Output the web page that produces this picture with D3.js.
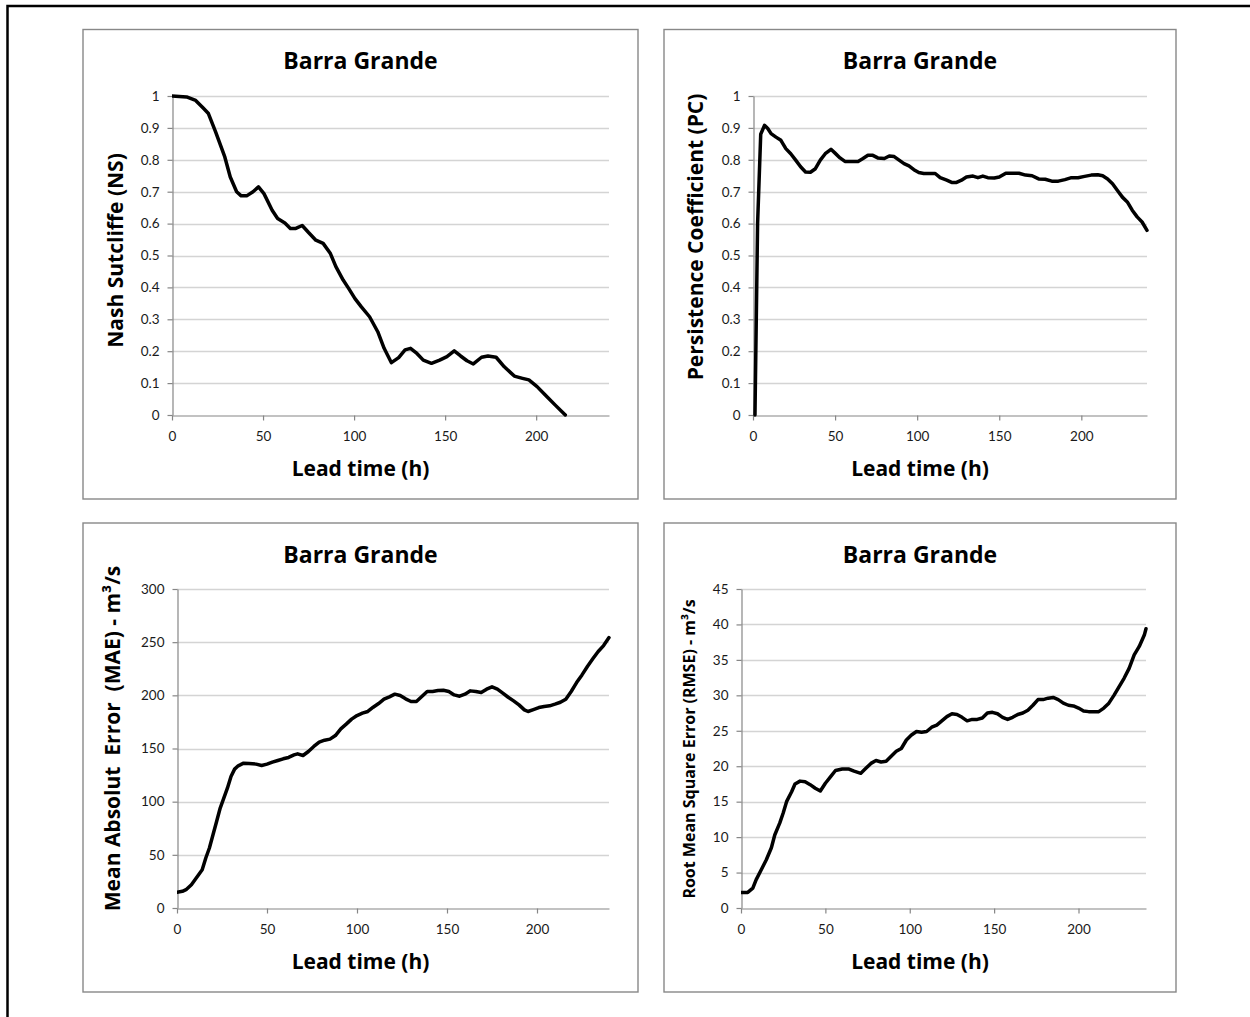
<!DOCTYPE html>
<html>
<head>
<meta charset="utf-8">
<script src="https://cdn.jsdelivr.net/npm/d3@7"></script>
<style>
  body { margin: 0; background: #fff; }
  svg { display: block; font-family: "Open Sans", Lato, sans-serif; }
</style>
</head>
<body>
<div id="chart"></div>
<script>
// lead time (h) and values
var nsHours  = [0, 8, 13, 17, 20, 24, 29, 32, 35.5, 38, 41, 44.5, 47.5, 50.5, 55, 58, 62, 65, 68, 71.5, 75, 79, 83, 87, 90, 94, 97, 100.5, 104, 108.5, 113, 116.5, 120.5, 124.5, 128, 131, 134.5, 138, 142.5, 147, 151, 155, 158.5, 162, 165.5, 170, 173.5, 178, 182.5, 188, 192.5, 196, 200.5, 205, 210.5, 216];
var nsValues = [1, 0.997, 0.986, 0.963, 0.945, 0.887, 0.809, 0.746, 0.70, 0.687, 0.687, 0.70, 0.715, 0.694, 0.642, 0.616, 0.602, 0.585, 0.585, 0.594, 0.572, 0.548, 0.538, 0.506, 0.465, 0.423, 0.397, 0.365, 0.339, 0.308, 0.261, 0.209, 0.164, 0.18, 0.204, 0.209, 0.193, 0.172, 0.162, 0.172, 0.183, 0.201, 0.185, 0.17, 0.16, 0.181, 0.185, 0.181, 0.151, 0.122, 0.115, 0.11, 0.089, 0.063, 0.031, 0];

var pcHours  = [1.2, 2.8, 4.7, 7, 9, 11, 14, 17, 20, 23, 26, 29, 32, 35, 38, 41, 44, 47.5, 50, 53, 56, 60, 64, 67, 70, 73, 76, 80, 83, 86, 89, 92, 95, 98, 101, 104, 108, 111, 114, 118, 121, 124, 127, 130, 134, 137, 140, 143, 147, 150, 154, 158, 162, 166, 170, 174, 178, 182, 186, 190, 194, 198, 202, 206, 210, 213, 216, 219, 222, 225, 228, 231, 234, 237, 240];
var pcValues = [0, 0.6, 0.88, 0.908, 0.898, 0.882, 0.871, 0.861, 0.835, 0.819, 0.799, 0.778, 0.762, 0.761, 0.772, 0.799, 0.819, 0.833, 0.821, 0.806, 0.795, 0.795, 0.795, 0.804, 0.814, 0.814, 0.806, 0.804, 0.812, 0.81, 0.799, 0.788, 0.781, 0.769, 0.76, 0.757, 0.757, 0.757, 0.744, 0.736, 0.729, 0.729, 0.736, 0.746, 0.749, 0.744, 0.749, 0.744, 0.743, 0.746, 0.758, 0.758, 0.758, 0.752, 0.75, 0.74, 0.739, 0.733, 0.733, 0.738, 0.744, 0.744, 0.748, 0.752, 0.753, 0.75, 0.74, 0.725, 0.704, 0.683, 0.668, 0.642, 0.621, 0.605, 0.579];

var maeHours  = [0, 3, 5, 8, 10, 12, 14, 16, 18, 20, 22, 24, 26, 28, 30, 32, 34, 37, 40, 44, 47, 50, 53, 56, 59, 62, 65, 67, 70, 73, 76, 79, 82, 85, 88, 91, 94, 97, 100, 103, 106, 109, 112, 115, 118, 121, 124, 127, 130, 133, 136, 139, 142, 145, 148, 151, 154, 157, 160, 163, 166, 169, 172, 175, 178, 181, 184, 187, 190, 193, 195, 198, 201, 204, 207, 210, 213, 216, 219, 222, 225, 228, 231, 234, 237, 240];
var maeValues = [14.7, 15.7, 17.2, 21.9, 26.6, 31.3, 36, 47, 56.4, 68.9, 81.4, 94, 103.3, 112.7, 123.7, 130.6, 133.7, 136.2, 135.9, 135.3, 134, 135.3, 137.2, 138.7, 140.3, 141.6, 144, 145, 143.4, 147.2, 151.9, 156, 157.8, 158.8, 162.2, 168.5, 172.9, 177.6, 181, 183.2, 184.8, 188.8, 192.3, 196.4, 198.6, 201.1, 199.8, 196.7, 194.2, 194.2, 198.9, 203.6, 203.6, 204.5, 204.8, 203.6, 200.4, 199.2, 201.1, 204.2, 203.6, 202.6, 205.8, 208, 205.8, 202, 198.2, 194.8, 191, 186.3, 184.8, 186.6, 188.5, 189.5, 190.1, 191.7, 193.5, 196.4, 203.6, 212, 219.2, 227.1, 234.3, 241.2, 246.8, 254.3];

var rmseHours  = [0, 4, 7, 9, 12, 15, 18, 20, 23, 25, 27, 30, 32, 35, 38, 41, 44, 47, 50, 53, 56, 60, 64, 67, 71, 74, 77, 80, 83, 86, 89, 92, 95, 98, 101, 104, 107, 110, 113, 116, 119, 122, 125, 128, 131, 134, 137, 140, 143, 146, 149, 152, 155, 158, 161, 164, 167, 170, 173, 176, 179, 182, 185, 188, 191, 194, 197, 200, 203, 206, 209, 212, 215, 218, 221, 224, 227, 230, 233, 236, 239, 240];
var rmseValues = [2.2, 2.2, 2.8, 4, 5.4, 6.8, 8.5, 10.3, 12, 13.4, 15, 16.4, 17.5, 17.9, 17.8, 17.4, 16.9, 16.5, 17.6, 18.5, 19.4, 19.6, 19.6, 19.3, 19, 19.7, 20.4, 20.8, 20.6, 20.7, 21.4, 22.1, 22.5, 23.7, 24.4, 24.9, 24.8, 24.9, 25.5, 25.8, 26.4, 27, 27.4, 27.3, 26.9, 26.4, 26.6, 26.6, 26.8, 27.5, 27.6, 27.4, 26.9, 26.6, 26.9, 27.3, 27.5, 27.9, 28.6, 29.4, 29.4, 29.6, 29.7, 29.4, 28.9, 28.6, 28.5, 28.2, 27.8, 27.7, 27.7, 27.7, 28.2, 28.9, 30, 31.2, 32.4, 33.8, 35.7, 36.9, 38.5, 39.4];

// tick labels
var xTicks = [0, 50, 100, 150, 200];
var nsTicks = [0, 0.1, 0.2, 0.3, 0.4, 0.5, 0.6, 0.7, 0.8, 0.9, 1];
var pcTicks = nsTicks;
var maeTicks = [0, 50, 100, 150, 200, 250, 300];
var rmseTicks = [0, 5, 10, 15, 20, 25, 30, 35, 40, 45];

var titleText = "Barra Grande";
var xLabel = "Lead time (h)";

// panel layout
var panels = [
  { box: [83, 29.5, 638, 499], plot: [172, 96, 609, 415], yMax: 1, ticks: nsTicks,
    hours: nsHours, values: nsValues, yLabel: "Nash Sutcliffe (NS)", yLabelX: 123, yLabelY: 250.5, yLabelSize: 21 },
  { box: [664, 29.5, 1176, 499], plot: [753, 96, 1147, 415], yMax: 1, ticks: pcTicks,
    hours: pcHours, values: pcValues, yLabel: "Persistence Coefficient (PC)", yLabelX: 702.5, yLabelY: 237, yLabelSize: 21 },
  { box: [83, 523, 638, 992], plot: [177, 589, 609, 908], yMax: 300, ticks: maeTicks,
    hours: maeHours, values: maeValues, yLabel: "Mean Absolut\u00a0 Error\u00a0 (MAE) - m\u00b3/s", yLabelX: 119.5, yLabelY: 738.5, yLabelSize: 21 },
  { box: [664, 523, 1176, 992], plot: [741, 589, 1146, 908], yMax: 45, ticks: rmseTicks,
    hours: rmseHours, values: rmseValues, yLabel: "Root Mean Square Error (RMSE) - m\u00b3/s", yLabelX: 694.5, yLabelY: 749, yLabelSize: 16 }
];

var svg = d3.select("#chart")
  .append("svg")
    .attr("width", 1250)
    .attr("height", 1017);

svg.append("rect")
  .attr("width", 1250).attr("height", 1017)
  .attr("fill", "#fff");

// outer frame (top and left edges only visible)
svg.append("path")
  .attr("d", "M7.5,1017V6H1250")
  .attr("fill", "none")
  .attr("stroke", "#000")
  .attr("stroke-width", 2.5);

panels.forEach(function (p, i) {
  var g = svg.append("g");
  var bx = p.box, pl = p.plot;
  var cx = (bx[0] + bx[2]) / 2;

  g.append("rect")
    .attr("x", bx[0]).attr("y", bx[1])
    .attr("width", bx[2] - bx[0]).attr("height", bx[3] - bx[1])
    .attr("fill", "#fff")
    .attr("stroke", "#888")
    .attr("stroke-width", 1.4);

  var x = d3.scaleLinear().domain([0, 240]).range([pl[0], pl[2]]);
  var y = d3.scaleLinear().domain([0, p.yMax]).range([pl[3], pl[1]]);

  // gridlines
  g.append("g")
    .selectAll("line")
    .data(p.ticks.filter(function (d) { return d > 0; }))
    .enter()
    .append("line")
      .attr("x1", pl[0]).attr("x2", pl[2])
      .attr("y1", function (d) { return Math.round(y(d)) + 0.5; })
      .attr("y2", function (d) { return Math.round(y(d)) + 0.5; })
      .attr("stroke", "#d4d4d4")
      .attr("stroke-width", 1.3);

  // axes
  var yAxis = g.append("g")
    .attr("transform", "translate(" + (Math.round(pl[0]) + 0.5) + ",0)")
    .call(d3.axisLeft(y).tickValues(p.ticks).tickSizeInner(5).tickSizeOuter(0).tickPadding(8)
      .tickFormat(function (d) { return String(d); }));
  var xAxis = g.append("g")
    .attr("transform", "translate(0," + (Math.round(pl[3]) + 0.5) + ")")
    .call(d3.axisBottom(x).tickValues(xTicks).tickSizeInner(5).tickSizeOuter(0).tickPadding(11));

  [yAxis, xAxis].forEach(function (a) {
    a.select(".domain").attr("stroke", "#868686").attr("stroke-width", 1.2);
    a.selectAll(".tick line").attr("stroke", "#868686").attr("stroke-width", 1.2);
    a.selectAll(".tick text")
      .attr("fill", "#1a1a1a")
      .style("font-size", "13.5px")
      .style("font-family", "Lato, sans-serif");
  });

  // series line
  var clipId = "clip" + i;
  g.append("clipPath").attr("id", clipId)
    .append("rect")
      .attr("x", pl[0]).attr("y", pl[1] - 4)
      .attr("width", pl[2] - pl[0] + 2).attr("height", pl[3] - pl[1] + 6);

  var pts = p.hours.map(function (h, k) { return [h, p.values[k]]; });
  g.append("path")
    .datum(pts)
    .attr("clip-path", "url(#" + clipId + ")")
    .attr("fill", "none")
    .attr("stroke", "#000")
    .attr("stroke-width", 3.5)
    .attr("stroke-linejoin", "round")
    .attr("stroke-linecap", "round")
    .attr("d", d3.line()
      .x(function (d) { return x(d[0]); })
      .y(function (d) { return y(d[1]); }));

  // titles
  g.append("text")
    .attr("x", cx).attr("y", bx[1] + 39.5)
    .attr("text-anchor", "middle")
    .style("font-size", "23px").style("font-weight", "bold")
    .text(titleText);

  g.append("text")
    .attr("x", cx).attr("y", bx[1] + 446)
    .attr("text-anchor", "middle")
    .style("font-size", "21px").style("font-weight", "bold")
    .text(xLabel);

  g.append("text")
    .attr("transform", "translate(" + p.yLabelX + "," + p.yLabelY + ") rotate(-90)")
    .attr("text-anchor", "middle")
    .style("font-size", p.yLabelSize + "px").style("font-weight", "bold")
    .text(p.yLabel);
});
</script>
</body>
</html>
